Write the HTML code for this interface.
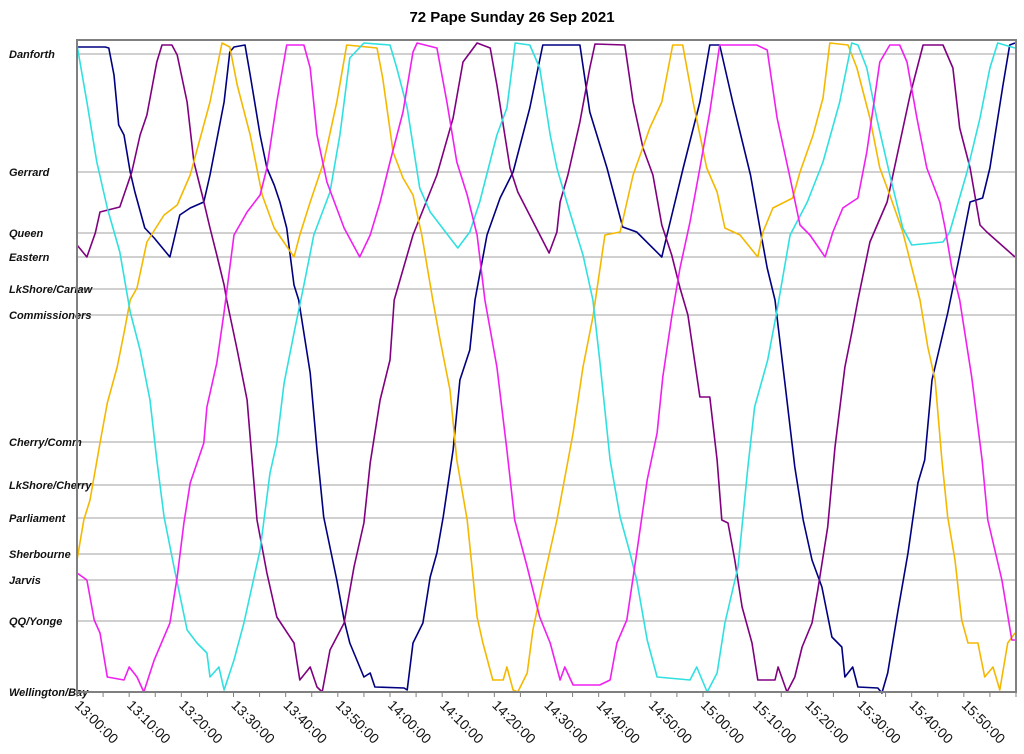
<!DOCTYPE html>
<html><head><meta charset="utf-8"><style>
html,body{margin:0;padding:0;background:#fff;}
svg{display:block;font-family:"Liberation Sans",Arial,sans-serif;}
</style></head><body>
<svg id="chart" width="1024" height="754" viewBox="0 0 1024 754">
<text x="512" y="22" text-anchor="middle" font-size="15" font-weight="bold">72 Pape Sunday 26 Sep 2021</text>
<g id="grid"></g><g id="series"></g><g id="axes"></g>
</svg>
<script>
const stationNames=["Danforth","Gerrard","Queen","Eastern","LkShore/Carlaw","Commissioners","Cherry/Comm","LkShore/Cherry","Parliament","Sherbourne","Jarvis","QQ/Yonge","Wellington/Bay"];
const stationDist=[0,118,179,203,235,261,388,431,464,500,526,567,638];
const tickLabels=["13:00:00","13:10:00","13:20:00","13:30:00","13:40:00","13:50:00","14:00:00","14:10:00","14:20:00","14:30:00","14:40:00","14:50:00","15:00:00","15:10:00","15:20:00","15:30:00","15:40:00","15:50:00"];
const tickMinutes=[0,10,20,30,40,50,60,70,80,90,100,110,120,130,140,150,160,170];
const seriesNames=["navy","purple","yellow","cyan","magenta"];
const seriesColors=["#000080","#800080","#f5b800","#30e0e0","#f020f0"];
const navyT=[0,5.4,6.1,7.1,8.0,9.0,10.2,11.1,13.0,14.8,17.8,18.8,19.7,21.7,24.3,25.5,28.2,29.3,30.1,32.2,33.2,35.1,36.4,37.8,38.9,40.2,41.6,42.5,44.7,46.0,47.3,49.8,51.2,52.3,55.0,56.2,57.1,62.7,63.3,64.4,66.3,67.7,69.0,70.2,72.1,73.4,75.3,76.3,78.6,81.1,83.6,86.8,89.3,96.4,98.3,101.6,104.6,107.3,112.1,113.1,116.2,119.4,121.3,123.2,125.7,129.1,130.9,132.3,133.8,135.7,137.6,139.2,140.9,142.8,144.7,146.6,147.2,148.7,149.7,153.5,154.3,155.4,157.4,159.3,161.2,162.5,163.9,166.9,169.2,171.2,173.6,175.0,177.5,178.8,179.8];
const navyD=[-7,-7,-6,21,71,81,118,138,174,184,203,181,161,154,148,121,48,-2,-7,-9,21,81,114,131,148,174,231,246,319,396,463,526,566,589,623,619,633,634,636,589,569,523,499,463,396,326,296,246,181,144,118,54,-9,-9,58,114,173,178,203,181,114,48,-9,-9,48,121,174,214,246,329,413,466,506,533,583,593,623,613,633,634,639,619,556,499,429,406,326,259,201,148,144,114,31,-9,-11];
const purpleT=[0,1.9,3.5,4.4,8.2,10.5,12.1,13.4,15.3,16.3,18.2,19.2,21.1,22.4,24.0,25.5,26.8,28.2,28.7,30.7,32.6,34.5,36.4,38.3,41.6,42.7,44.7,46.0,47.0,48.5,51.2,53.1,55.0,56.2,58.1,60.0,60.8,64.4,69.0,72.1,74.0,76.7,79.2,80.5,83.0,84.5,90.5,92.0,92.6,94.1,96.4,98.3,99.3,105.0,106.6,108.5,110.4,112.1,114.0,115.6,117.1,119.4,121.3,122.7,123.6,124.8,126.1,127.5,129.4,130.5,133.8,134.4,136.1,137.6,139.0,140.9,142.0,143.9,145.3,147.2,148.5,149.7,152.0,155.3,159.7,162.2,166.0,167.9,169.2,171.2,173.1,174.4,179.8];
const purpleD=[191,203,179,158,153,118,81,61,8,-9,-9,1,48,108,141,174,201,231,246,296,346,466,519,563,589,626,613,633,638,596,569,513,469,409,346,306,246,181,121,64,8,-11,-6,31,114,138,199,178,148,121,68,14,-10,-9,48,94,121,171,201,234,261,343,343,406,466,469,506,553,589,626,626,613,638,623,593,569,536,473,393,313,279,246,188,148,41,-9,-9,14,74,114,171,178,203];
const yellowT=[0,1.3,2.5,4.4,5.8,7.7,9.0,10.2,11.5,13.4,16.7,19.2,21.7,25.5,27.8,29.3,30.7,33.2,35.5,37.8,41.6,42.7,44.7,47.3,49.8,51.7,57.5,58.6,60.6,62.5,64.4,66.1,68.2,69.6,71.5,72.8,74.8,76.7,77.8,79.7,81.7,82.4,83.6,84.5,86.3,87.4,89.3,92.0,93.9,95.1,97.0,98.9,101.2,104.1,106.6,109.8,112.1,114.2,116.1,118.1,120.7,122.7,124.2,127.1,130.5,131.5,133.4,137.2,138.6,141.1,143.0,144.3,147.8,149.5,152.0,153.9,155.8,158.3,161.6,163.1,164.5,165.8,166.9,168.3,169.6,170.8,172.7,174.0,175.6,176.9,178.4,179.8];
const yellowD=[506,466,446,389,349,313,279,246,234,188,161,151,121,48,-11,-7,31,81,141,174,203,181,148,108,48,-9,-6,24,98,124,141,181,246,286,336,406,466,563,589,626,626,613,636,638,619,576,529,466,413,379,313,263,181,178,121,74,48,-9,-9,48,114,138,174,181,203,178,154,144,118,81,44,-11,-9,14,64,114,141,178,246,293,326,406,463,506,566,589,589,623,613,636,589,579];
const cyanT=[0,1.9,3.8,5.8,8.2,10.2,12.1,14.0,15.3,16.7,18.6,21.1,23.0,24.9,25.5,27.2,28.2,30.1,32.0,35.1,37.0,38.3,39.7,41.6,43.5,45.4,48.5,50.4,52.3,55.0,60.0,61.3,63.3,65.7,67.7,73.0,75.3,77.2,80.5,82.4,84.0,86.8,88.7,90.7,92.0,93.9,95.8,97.0,98.9,100.2,102.2,104.1,106.0,107.3,109.3,111.2,117.5,118.8,120.8,122.7,124.2,126.7,128.6,129.9,132.4,134.2,136.7,140.0,143.0,146.2,148.5,149.7,151.4,153.3,155.8,158.3,160.0,166.0,167.3,170.6,173.1,175.0,176.5,179.8];
const cyanD=[-9,48,108,154,198,258,296,346,406,463,513,576,589,599,623,613,636,606,569,496,419,389,329,279,231,181,138,81,4,-11,-9,14,54,134,158,194,178,148,81,54,-11,-9,14,81,114,148,181,201,246,306,406,463,499,526,586,623,626,613,638,619,569,513,413,353,306,256,181,148,108,48,-11,-9,14,64,121,174,191,188,178,118,64,14,-11,-6];
const magentaT=[0,1.9,3.3,4.4,5.8,9.0,10.0,11.5,12.8,14.8,17.8,19.2,20.5,21.7,24.3,24.9,26.8,28.2,30.1,32.6,35.1,36.4,38.3,40.2,43.5,44.7,46.0,47.9,51.2,54.2,56.2,58.1,60.0,62.5,64.4,65.2,69.0,70.9,72.8,74.8,76.7,78.2,80.5,82.4,83.9,86.3,88.7,90.7,92.6,93.5,95.1,100.2,102.2,103.5,105.4,107.3,109.3,111.2,112.3,114.0,115.6,117.5,119.4,121.3,123.2,130.3,132.3,134.2,136.7,138.6,140.5,143.4,144.9,146.8,149.7,151.4,153.9,155.8,157.7,159.1,161.0,162.9,165.4,166.4,167.7,169.2,171.5,173.5,174.6,177.3,179.2,179.8];
const magentaD=[519,526,566,579,623,626,613,623,638,606,569,523,469,429,389,353,309,258,181,158,141,114,48,-9,-9,14,81,128,174,203,181,148,108,58,-2,-11,-6,48,108,141,181,246,313,396,466,513,563,589,626,613,631,631,626,589,566,499,426,379,323,263,214,168,114,58,-9,-9,-4,64,124,171,181,203,178,154,144,98,8,-9,-9,8,64,114,148,174,214,246,323,406,466,526,586,586];

const X0=77,X1=1016,Y0=54,PT=40,PB=692,TMAX=180;
function xs(m){return X0+(X1-X0)*m/TMAX;}
function ys(d){return Y0+d;}
const NS='http://www.w3.org/2000/svg';
function mk(tag,attrs,parent){const e=document.createElementNS(NS,tag);for(const k in attrs)e.setAttribute(k,attrs[k]);parent.appendChild(e);return e;}
const grid=document.getElementById('grid'),axes=document.getElementById('axes'),ser=document.getElementById('series');
stationNames.forEach((n,i)=>{
  const y=ys(stationDist[i]);
  const l=mk('line',{x1:X0,x2:X1,y1:y,y2:y,stroke:'#a0a0a0','stroke-width':1},grid);
  
  
  const t=mk('text',{x:9,y:y+4,'font-size':11,'font-weight':'bold','font-style':'italic',fill:'#111'},axes);
  t.textContent=n;
  
  
});
const fr=mk('rect',{x:X0,y:PT,width:X1-X0,height:PB-PT,fill:'none',stroke:'#808080','stroke-width':2},axes);


for(let m=0;m<=TMAX;m+=5){
  const tk=mk('line',{x1:xs(m),x2:xs(m),y1:PB,y2:PB+5,stroke:'#808080','stroke-width':1},axes);
  
  
}
tickLabels.forEach((lab,i)=>{
  const x=xs(tickMinutes[i])-3,y=PB+14;
  const t=mk('text',{x:x,y:y,'font-size':14,fill:'#111',transform:`rotate(45 ${x} ${y})`},axes);
  t.textContent=lab;
  
  
});
const allT=[navyT,purpleT,yellowT,cyanT,magentaT],allD=[navyD,purpleD,yellowD,cyanD,magentaD];
seriesNames.forEach((n,s)=>{
  const T=allT[s],D=allD[s],len=Math.min(T.length,D.length);
  let d='';
  for(let i=0;i<len;i++)d+=(i?'L':'M')+xs(T[i]).toFixed(1)+','+ys(D[i]).toFixed(1);
  const p=mk('path',{d:d,fill:'none',stroke:seriesColors[s],'stroke-width':1.6,'stroke-linejoin':'round'},ser);
  
  
});
</script>
</body></html>
